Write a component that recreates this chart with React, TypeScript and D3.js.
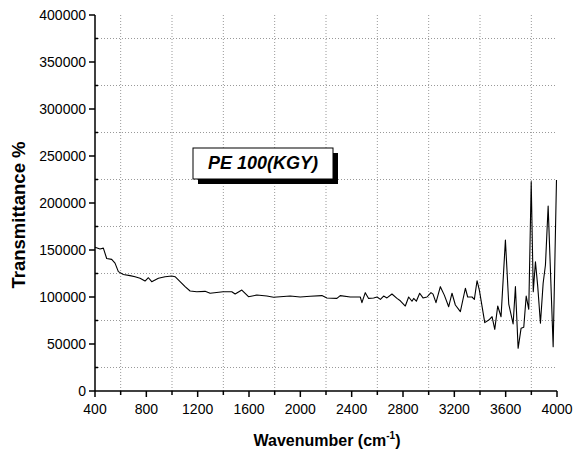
import React from "react";
import * as d3 from "d3";

const wavenumbers = [400, 439, 465, 491, 530, 556, 582, 621, 673, 712, 751, 790, 816, 842, 894, 946, 998, 1024, 1063, 1102, 1141, 1193, 1258, 1297, 1398, 1466, 1492, 1544, 1596, 1661, 1739, 1791, 1843, 1921, 1999, 2077, 2168, 2207, 2285, 2311, 2389, 2467, 2480, 2506, 2532, 2571, 2598, 2624, 2649, 2675, 2714, 2753, 2779, 2818, 2844, 2870, 2883, 2904, 2930, 2956, 2987, 3018, 3034, 3057, 3091, 3122, 3156, 3182, 3208, 3247, 3286, 3304, 3338, 3356, 3377, 3395, 3437, 3468, 3494, 3515, 3538, 3564, 3598, 3624, 3658, 3676, 3697, 3720, 3741, 3760, 3780, 3799, 3815, 3832, 3850, 3871, 3892, 3910, 3931, 3970, 3996];
const transmittance = [153000, 151000, 152000, 141000, 140000, 136000, 127000, 124000, 122700, 121600, 120000, 117000, 120500, 116300, 120000, 121600, 122300, 121600, 116300, 111000, 106400, 105600, 106000, 104000, 105600, 105600, 103200, 107400, 100300, 102100, 101000, 99700, 100300, 101000, 100000, 100800, 101500, 99000, 98500, 101500, 100000, 100000, 94000, 104600, 98500, 99000, 100000, 97500, 101000, 99000, 103200, 98500, 96000, 90400, 100000, 95500, 98500, 95500, 104000, 99000, 100000, 104600, 103000, 94000, 111000, 102000, 89700, 104000, 91500, 84400, 109300, 100000, 100000, 97500, 117300, 107400, 72700, 75500, 79000, 65600, 90400, 79000, 160600, 92500, 71300, 111000, 45400, 66700, 67800, 101000, 86900, 222700, 105600, 137500, 111000, 72000, 114600, 134000, 196800, 47100, 224500];

const xTicks = [400, 800, 1200, 1600, 2000, 2400, 2800, 3200, 3600, 4000];
const xMinor = [600, 1000, 1400, 1800, 2200, 2600, 3000, 3400, 3800];
const yTicks = [0, 50000, 100000, 150000, 200000, 250000, 300000, 350000, 400000];
const yMinor = [25000, 75000, 125000, 175000, 225000, 275000, 325000, 375000];

const xLabel = "Wavenumber (cm";
const yLabel = "Transmittance %";
const boxLabel = "PE 100(KGY)";

export default function App() {
  const W = 574, H = 456;
  const left = 95, right = 557, top = 15, bottom = 391;
  const x = d3.scaleLinear().domain([400, 4000]).range([left, right]);
  const y = d3.scaleLinear().domain([0, 400000]).range([bottom, top]);
  const line = d3.line<number>().x((_, i) => x(wavenumbers[i])).y((d) => y(d));
  const font = "'Liberation Sans', Arial, sans-serif";
  return (
    <svg width={W} height={H} style={{ position: "absolute", left: 0, top: 0, background: "#fff" }} fontFamily={font}>
      <rect x={0} y={0} width={W} height={H} fill="#fff" />
      {xMinor.map((t) => (
        <line key={"gx" + t} x1={x(t)} x2={x(t)} y1={bottom} y2={top} stroke="#999" strokeWidth={1} strokeDasharray="1,2" />
      ))}
      {yMinor.map((t) => (
        <line key={"gy" + t} x1={left} x2={right} y1={y(t)} y2={y(t)} stroke="#999" strokeWidth={1} strokeDasharray="1,2" />
      ))}
      <path d={line(transmittance) || ""} fill="none" stroke="#000" strokeWidth={1.1} strokeLinejoin="round" />
      <line x1={left} x2={left} y1={top} y2={bottom} stroke="#000" strokeWidth={1.5} />
      <line x1={left} x2={right} y1={bottom} y2={bottom} stroke="#000" strokeWidth={1.5} />
      {yTicks.map((t) => (
        <g key={"yt" + t}>
          <line x1={left - 6} x2={left} y1={y(t)} y2={y(t)} stroke="#000" strokeWidth={1.5} />
          <text x={left - 9} y={y(t)} dy="0.35em" textAnchor="end" fontSize={14}>{t}</text>
        </g>
      ))}
      {yMinor.map((t) => (
        <line key={"ym" + t} x1={left} x2={left + 3} y1={y(t)} y2={y(t)} stroke="#000" strokeWidth={1.5} />
      ))}
      {xTicks.map((t) => (
        <g key={"xt" + t}>
          <line x1={x(t)} x2={x(t)} y1={bottom} y2={bottom + 6} stroke="#000" strokeWidth={1.5} />
          <text x={x(t)} y={bottom + 23} textAnchor="middle" fontSize={14}>{t}</text>
        </g>
      ))}
      {xMinor.map((t) => (
        <line key={"xm" + t} x1={x(t)} x2={x(t)} y1={bottom} y2={bottom + 4} stroke="#000" strokeWidth={1.5} />
      ))}
      <text x={327} y={446} textAnchor="middle" fontSize={16} fontWeight="bold">
        {xLabel}
        <tspan fontSize={10} dy={-7}>-1</tspan>
        <tspan dy={7}>)</tspan>
      </text>
      <text transform="translate(24.5,215) rotate(-90)" textAnchor="middle" fontSize={18.5} fontWeight="bold">{yLabel}</text>
      <rect x={198} y={153} width={140} height={31} fill="#000" />
      <rect x={193} y={148} width={140} height={31} fill="#fff" stroke="#000" strokeWidth={1} />
      <text x={263} y={163} textAnchor="middle" dy="0.35em" fontSize={18} fontWeight="bold" fontStyle="italic">{boxLabel}</text>
    </svg>
  );
}
